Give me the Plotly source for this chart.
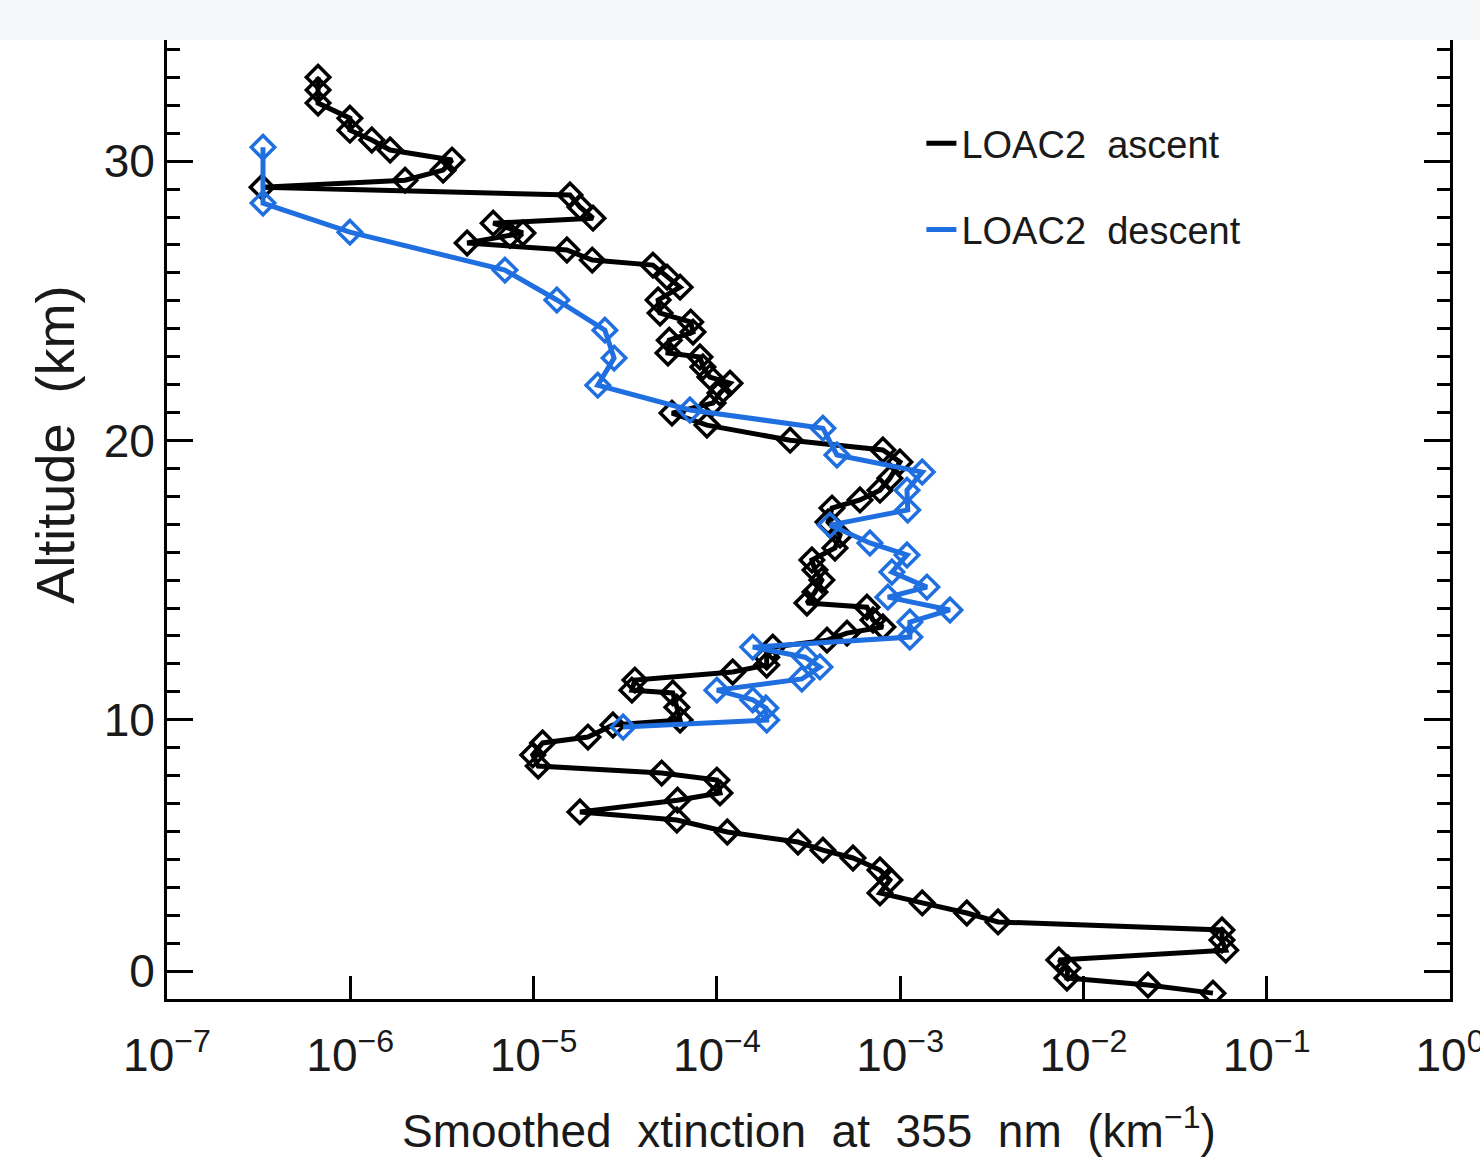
import plotly.graph_objects as go

# ---------------- data ----------------
asc_alt = [0.21, 0.50, 0.75, 1.11, 1.40, 1.75, 2.11, 2.47, 2.76, 3.08,
           3.44, 3.80, 4.26, 4.62, 5.05, 5.33, 5.62, 5.98, 6.41, 6.70,
           7.12, 7.38, 7.84, 8.09, 8.34, 8.74, 9.17, 9.38, 9.81, 9.99,
           10.45, 10.96, 11.06, 11.42, 11.71, 11.96, 12.24, 12.60, 12.85, 13.10,
           13.32, 13.57, 14.03, 14.18, 14.57, 15.00, 15.36, 15.72, 16.15, 16.61,
           17.08, 17.58, 17.87, 18.22, 18.65, 19.23, 19.66, 20.01, 20.55, 20.98,
           21.34, 21.70, 22.05, 22.27, 22.63, 22.99, 23.13, 23.59, 23.88, 24.24,
           24.56, 25.03, 25.49, 25.85, 26.28, 26.46, 26.82, 27.07, 27.35, 27.43,
           27.78, 27.96, 28.36, 28.79, 29.07, 29.32, 29.68, 30.04, 30.40, 30.76,
           31.11, 31.54, 32.08, 32.55, 33.01]
asc_ext = [5.09e-2, 2.25e-2, 8.13e-3, 8.22e-3, 7.34e-3, 5.98e-2, 5.70e-2, 5.70e-2, 3.42e-3, 2.31e-3,
           1.32e-3, 7.76e-4, 8.79e-4, 7.76e-4, 5.53e-4, 3.79e-4, 2.77e-4, 1.14e-4, 6.05e-5, 1.79e-5,
           6.10e-5, 1.04e-4, 1.00e-4, 5.00e-5, 1.06e-5, 9.9e-6, 1.12e-5, 1.98e-5, 2.71e-5, 6.30e-5,
           6.05e-5, 5.75e-5, 3.44e-5, 3.57e-5, 1.22e-4, 1.87e-4, 1.87e-4, 2.02e-4, 3.99e-4, 5.13e-4,
           8.05e-4, 7.11e-4, 6.59e-4, 3.10e-4, 3.43e-4, 3.74e-4, 3.43e-4, 3.30e-4, 4.41e-4, 4.70e-4,
           4.04e-4, 4.25e-4, 6.04e-4, 7.76e-4, 8.79e-4, 9.97e-4, 8.05e-4, 2.51e-4, 8.83e-5, 5.69e-5,
           9.53e-5, 1.04e-4, 1.18e-4, 9.16e-5, 8.39e-5, 8.09e-5, 5.41e-5, 5.50e-5, 7.41e-5, 7.20e-5,
           4.90e-5, 4.78e-5, 6.30e-5, 5.35e-5, 4.48e-5, 2.09e-5, 1.52e-5, 4.34e-6, 7.43e-6, 8.75e-6,
           6.02e-6, 2.11e-5, 1.79e-5, 1.58e-5, 3.30e-7, 1.99e-6, 3.21e-6, 3.59e-6, 1.65e-6, 1.31e-6,
           9.95e-7, 9.95e-7, 6.67e-7, 6.67e-7, 6.67e-7]

desc_alt = [30.50, 28.50, 27.46, 26.10, 25.03, 23.95, 22.95, 21.98, 21.09, 20.44,
            19.48, 18.87, 18.22, 17.51, 16.97, 16.33, 15.90, 15.29, 14.75, 14.39,
            13.93, 13.50, 12.96, 12.60, 12.24, 11.89, 11.46, 11.06, 10.71, 10.42,
            9.99, 9.74]
desc_ext = [3.34e-7, 3.34e-7, 9.95e-7, 6.98e-6, 1.34e-5, 2.45e-5, 2.75e-5, 2.24e-5, 7.13e-5, 3.79e-4,
            4.52e-4, 1.32e-3, 1.09e-3, 1.10e-3, 4.14e-4, 6.84e-4, 1.09e-3, 9.02e-4, 1.40e-3, 8.57e-4,
            1.87e-3, 1.13e-3, 1.13e-3, 1.57e-4, 3.03e-4, 3.65e-4, 2.91e-4, 1.00e-4, 1.57e-4, 1.85e-4,
            1.87e-4, 3.08e-5]

x_tickvals = [1e-7, 1e-6, 1e-5, 1e-4, 1e-3, 1e-2, 1e-1, 1e0]
x_ticktext = ["10<sup>\u22127</sup>", "10<sup>\u22126</sup>", "10<sup>\u22125</sup>",
              "10<sup>\u22124</sup>", "10<sup>\u22123</sup>", "10<sup>\u22122</sup>",
              "10<sup>\u22121</sup>", "10<sup>0</sup>"]
y_tickvals = [1, 10, 20, 30]
y_ticktext = ["0", "10", "20", "30"]

series_names = ["LOAC2&nbsp;&nbsp;ascent", "LOAC2&nbsp;&nbsp;descent"]
BLACK = "#000000"
BLUE = "#1f6fe0"
FONT = "Liberation Sans, Arial, sans-serif"
TXT = "#1a1a1a"

fig = go.Figure()

fig.add_trace(go.Scatter(
    x=asc_ext, y=asc_alt, mode="lines+markers", showlegend=False,
    line=dict(color=BLACK, width=5),
    marker=dict(symbol="diamond-open", size=18, color=BLACK, line=dict(width=3.5, color=BLACK)),
))
fig.add_trace(go.Scatter(
    x=desc_ext, y=desc_alt, mode="lines+markers", showlegend=False,
    line=dict(color=BLUE, width=5),
    marker=dict(symbol="diamond-open", size=18, color=BLUE, line=dict(width=3.5, color=BLUE)),
))
# legend entries (line only)
fig.add_trace(go.Scatter(x=[None], y=[None], mode="lines", name=series_names[0],
                         legendgroup="a", line=dict(color=BLACK, width=5)))
fig.add_trace(go.Scatter(x=[None], y=[None], mode="lines", name=series_names[1],
                         legendgroup="d", line=dict(color=BLUE, width=5)))

axis_common = dict(showgrid=False, zeroline=False, showline=True, linecolor="black",
                   linewidth=3, ticks="inside", tickcolor="black", tickwidth=3,
                   automargin=False, tickfont=dict(family=FONT, size=46, color=TXT))

fig.update_xaxes(type="log", range=[-7, 0], tickvals=x_tickvals, ticktext=x_ticktext,
                 ticklen=23, mirror=False, ticklabelstandoff=14, ticklabeloverflow="allow",
                 **axis_common)
fig.update_yaxes(range=[0, 34.34], tickvals=y_tickvals, ticktext=y_ticktext,
                 ticklen=26, mirror="ticks",
                 minor=dict(ticks="inside", dtick=1, tick0=0, ticklen=13, tickwidth=3,
                            tickcolor="black", showgrid=False),
                 **axis_common)

fig.add_shape(type="rect", xref="paper", yref="paper", x0=-0.2, x1=1.1, y0=1.0, y1=1.06,
              fillcolor="#f6f7f9", line=dict(width=0), layer="below")

fig.add_annotation(text="Smoothed&nbsp;&nbsp;xtinction&nbsp;&nbsp;at&nbsp;&nbsp;355&nbsp;&nbsp;nm&nbsp;&nbsp;(km<sup>\u22121</sup>)",
                   xref="paper", yref="paper", x=0.5, y=-0.1345, showarrow=False,
                   xanchor="center", yanchor="middle",
                   font=dict(family=FONT, size=46, color=TXT))
fig.add_annotation(text="Altitude&nbsp;&nbsp;(km)", textangle=-90,
                   xref="paper", yref="paper", x=-0.0873, y=0.578, showarrow=False,
                   xanchor="center", yanchor="middle",
                   font=dict(family=FONT, size=54, color=TXT))

fig.update_layout(
    width=1480, height=1171,
    margin=dict(l=167, r=30, t=40, b=172),
    paper_bgcolor="white", plot_bgcolor="white",
    legend=dict(x=0.588, y=0.925, xanchor="left", yanchor="top",
                bgcolor="rgba(0,0,0,0)", font=dict(family=FONT, size=38, color=TXT),
                itemwidth=30, tracegroupgap=34),
    showlegend=True,
)

fig.write_html("out.html")
